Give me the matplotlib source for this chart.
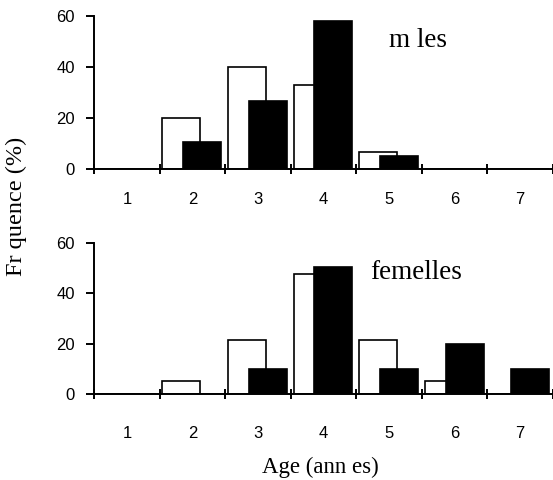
import matplotlib
matplotlib.use("Agg")
import matplotlib.pyplot as plt
from matplotlib.ticker import FixedLocator, NullFormatter
import numpy as np

ages = [1, 2, 3, 4, 5, 6, 7]
age_labels = ["1", "2", "3", "4", "5", "6", "7"]
males_white = [0, 20, 40, 33, 6.7, 0, 0]
males_black = [0, 10.5, 26.7, 58, 5.3, 0, 0]
females_white = [0, 5.3, 21.3, 47.6, 21.3, 5.3, 0]
females_black = [0, 0, 10, 50.3, 10, 20.1, 10]
yticks = [0, 20, 40, 60]

W, H = 553, 480
fig = plt.figure(figsize=(W / 100, H / 100), dpi=100)

serif = "Liberation Serif"
sans = "Liberation Sans"

def make_panel(rect, white, black, title, title_xy, label_pad):
    ax = fig.add_axes(rect)
    x = np.array(ages, dtype=float)
    ax.bar(x - 0.17, white, width=0.58, color="white", edgecolor="black", linewidth=1.2, zorder=2)
    ax.bar(x + 0.15, black, width=0.58, color="black", edgecolor="black", linewidth=1.2, zorder=3)
    ax.set_xlim(0.5, 7.5)
    ax.set_ylim(0, 60)
    for s in ("top", "right"):
        ax.spines[s].set_visible(False)
    ax.spines["left"].set_linewidth(1.4)
    ax.spines["bottom"].set_linewidth(1.4)
    ax.spines["left"].set_zorder(4)
    ax.spines["bottom"].set_zorder(4)
    ax.set_yticks(yticks)
    ax.set_yticklabels([str(v) for v in yticks], fontfamily=sans, fontsize=12)
    ax.tick_params(axis="y", direction="out", length=6, width=1.4, pad=8)
    # x: cross ticks at boundaries, labels at centers
    ax.xaxis.set_major_locator(FixedLocator(np.arange(0.5, 7.6, 1.0)))
    ax.xaxis.set_major_formatter(NullFormatter())
    ax.tick_params(axis="x", which="major", direction="inout", length=7, width=1.4)
    ax.xaxis.set_minor_locator(FixedLocator(ages))
    ax.set_xticklabels(age_labels, minor=True, fontfamily=sans, fontsize=12)
    ax.tick_params(axis="x", which="minor", length=0, pad=label_pad)
    ax.text(title_xy[0] / W, 1 - title_xy[1] / H, title, transform=fig.transFigure,
            fontfamily=serif, fontsize=19.5, ha="center", va="baseline")
    return ax

left = 94.3 / W
make_panel([left, 1 - 169.3 / H, 1 - left, (169.3 - 15.5) / H],
           males_white, males_black, "m les", (418, 47), 16)
make_panel([left, 1 - 394.3 / H, 1 - left, (394.3 - 242.7) / H],
           females_white, females_black, "femelles", (416, 279), 23)

fig.text(16 / W, 1 - 206 / H, "Fr quence (%)", rotation=90, fontfamily=serif,
         fontsize=17.5, ha="center", va="center")
fig.text(320 / W, 1 - 467 / H, "Age (ann es)", fontfamily=serif,
         fontsize=16.5, ha="center", va="center")

fig.savefig("out.png", dpi=100)
